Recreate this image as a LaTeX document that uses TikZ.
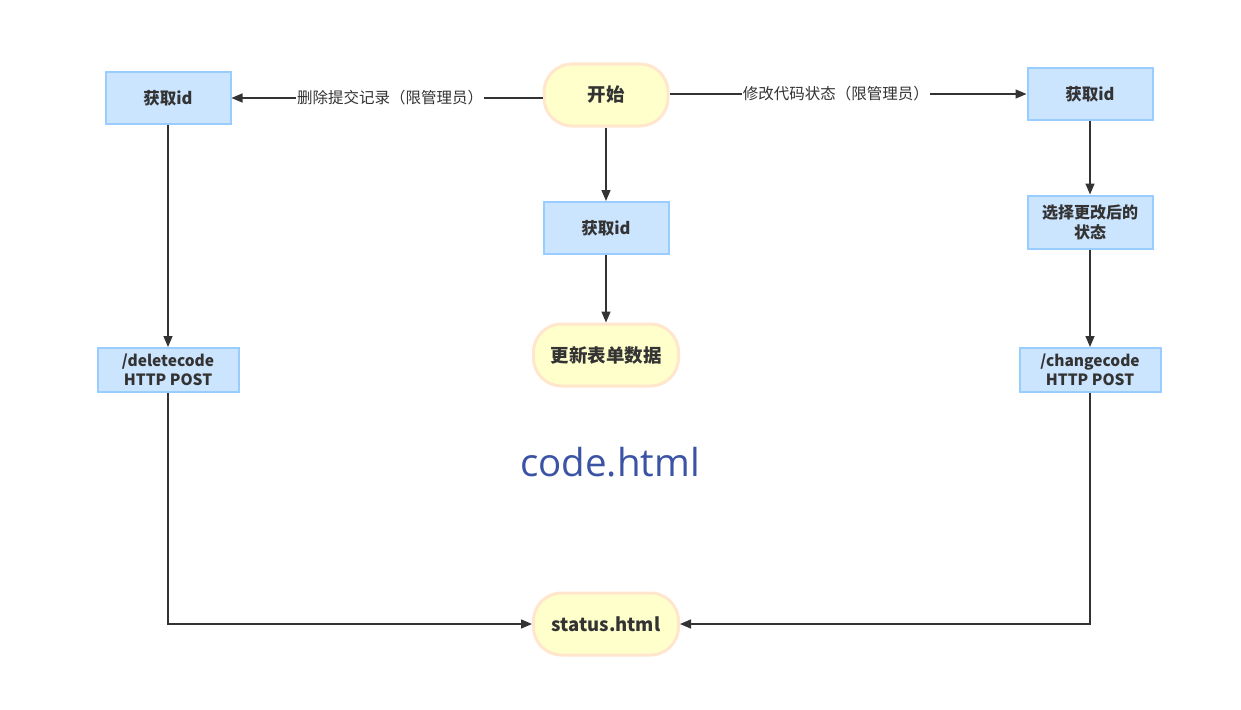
\documentclass[tikz,border=0pt]{standalone}
\usepackage{fontspec}
\setmainfont{Noto Sans CJK SC}
\newfontfamily\titlefont{Open Sans}
\usetikzlibrary{arrows.meta}
\definecolor{boxfill}{HTML}{CCE5FF}
\definecolor{boxline}{HTML}{99CCFF}
\definecolor{termfill}{HTML}{FFFFCC}
\definecolor{termline}{HTML}{FFE6CC}
\definecolor{linkgray}{HTML}{333333}
\definecolor{titleblue}{HTML}{3A53A4}
\tikzset{
	procbox/.style={rectangle, draw=boxline, fill=boxfill, line width=2pt, minimum width=125pt, minimum height=52pt, align=center, font=\fontsize{16.5}{19}\selectfont\bfseries, text=linkgray},
	termbox/.style={rectangle, rounded corners=28pt, draw=termline, fill=termfill, line width=3pt, minimum width=145pt, minimum height=62pt, align=center, font=\fontsize{18.5}{22}\selectfont\bfseries, text=linkgray},
	link/.style={draw=linkgray, line width=1.4pt, -{Triangle[length=11pt,width=9pt]}},
	linklabel/.style={fill=white, font=\fontsize{15.5}{18}\selectfont, text=linkgray, inner sep=1pt}
}
\begin{document}
\begin{tikzpicture}[x=1pt,y=-1pt]
	\useasboundingbox (0,0) rectangle (1241,709);
	\node (start)   at ( 606,  95) [termbox, minimum width=124pt]	{开始};
	\node (getidL)  at ( 168,  98) [procbox]	{获取id};
	\node (getidR)  at (1090,  94) [procbox]	{获取id};
	\node (getidM)  at ( 606, 228) [procbox]	{获取id};
	\node (update)  at ( 606, 355) [termbox]	{更新表单数据};
	\node (choose)  at (1090, 222) [procbox, minimum height=53pt, font=\fontsize{16}{20}\selectfont\bfseries]	{选择更改后的\\状态};
	\node (delcode) at ( 168, 370) [procbox, minimum width=141pt, minimum height=44pt, font=\fontsize{15.5}{19}\selectfont\bfseries]	{/deletecode\\HTTP POST};
	\node (chgcode) at (1090, 370) [procbox, minimum width=141pt, minimum height=44pt, font=\fontsize{15.5}{19}\selectfont\bfseries]	{/changecode\\HTTP POST};
	\node (status)  at ( 606, 624) [termbox]	{status.html};
	\node (title)   at ( 610, 462) [font=\titlefont\fontsize{38.5}{42}\selectfont, text=titleblue]	{code.html};
	\draw[link] (start.west |- getidL) -- (getidL) node[linklabel, pos=0.49] {删除提交记录（限管理员）};
	\draw[link] (start.east |- getidR) -- (getidR) node[linklabel, pos=0.466] {修改代码状态（限管理员）};
	\draw[link] (start) -- (getidM);
	\draw[link] (getidM) -- (update);
	\draw[link] (getidL) -- (delcode);
	\draw[link] (getidR) -- (choose);
	\draw[link] (choose) -- (chgcode);
	\draw[link] (delcode) |- (status);
	\draw[link] (chgcode) |- (status);
\end{tikzpicture}
\end{document}
